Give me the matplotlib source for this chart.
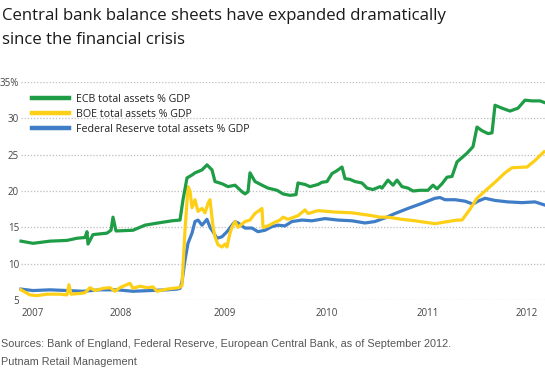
import matplotlib
matplotlib.use("Agg")
import matplotlib.pyplot as plt

# x positions are decimal years
ecb_x = [2007.00, 2007.12, 2007.29, 2007.46, 2007.56, 2007.64, 2007.66, 2007.67, 2007.72,
         2007.86, 2007.90, 2007.92, 2007.95, 2008.12, 2008.24, 2008.37, 2008.51, 2008.59,
         2008.62, 2008.66, 2008.71, 2008.74, 2008.81, 2008.86, 2008.91, 2008.94, 2009.01,
         2009.07, 2009.14, 2009.21, 2009.24, 2009.27, 2009.29, 2009.34, 2009.41, 2009.47,
         2009.56, 2009.62, 2009.69, 2009.75, 2009.77, 2009.84, 2009.89, 2009.97, 2010.01,
         2010.06, 2010.11, 2010.16, 2010.21, 2010.24, 2010.29, 2010.34, 2010.41, 2010.46,
         2010.52, 2010.59, 2010.61, 2010.67, 2010.72, 2010.76, 2010.81, 2010.87, 2010.92,
         2010.99, 2011.07, 2011.12, 2011.16, 2011.21, 2011.26, 2011.31, 2011.36, 2011.41,
         2011.46, 2011.52, 2011.56, 2011.61, 2011.67, 2011.71, 2011.74, 2011.81, 2011.89,
         2011.97, 2012.04, 2012.11, 2012.19, 2012.23]
ecb = [13.1, 12.8, 13.1, 13.2, 13.5, 13.6, 14.4, 12.7, 14.0,
       14.2, 14.6, 16.4, 14.5, 14.6, 15.3, 15.6, 15.9, 16.0,
       18.8, 21.8, 22.2, 22.5, 22.9, 23.6, 22.9, 21.3, 21.0,
       20.6, 20.8, 19.9, 19.6, 19.9, 22.5, 21.3, 20.8, 20.4,
       20.1, 19.6, 19.4, 19.5, 21.1, 20.9, 20.6, 20.9, 21.2,
       21.3, 22.4, 22.8, 23.3, 21.7, 21.6, 21.3, 21.1, 20.4,
       20.2, 20.6, 20.4, 21.5, 20.8, 21.5, 20.6, 20.4, 20.0,
       20.1, 20.1, 20.8, 20.3, 21.0, 21.9, 22.0, 24.0, 24.6,
       25.2, 26.1, 28.8, 28.3, 27.9, 28.0, 31.8, 31.4, 31.0,
       31.4, 32.5, 32.4, 32.4, 32.2]

boe_x = [2007.00, 2007.09, 2007.16, 2007.26, 2007.39, 2007.46, 2007.48, 2007.50, 2007.59,
         2007.64, 2007.69, 2007.74, 2007.82, 2007.89, 2007.94, 2007.99, 2008.09, 2008.12,
         2008.19, 2008.26, 2008.32, 2008.36, 2008.46, 2008.52, 2008.58, 2008.61, 2008.64,
         2008.67, 2008.69, 2008.71, 2008.74, 2008.77, 2008.81, 2008.84, 2008.87, 2008.89,
         2008.92, 2008.94, 2008.97, 2009.01, 2009.04, 2009.06, 2009.09, 2009.11, 2009.14,
         2009.17, 2009.24, 2009.29, 2009.34, 2009.39, 2009.41, 2009.42, 2009.47, 2009.54,
         2009.59, 2009.62, 2009.67, 2009.71, 2009.77, 2009.84, 2009.87, 2009.97, 2010.14,
         2010.31, 2010.41, 2010.51, 2010.59, 2010.67, 2010.81, 2010.94, 2011.14, 2011.27,
         2011.36, 2011.41, 2011.49, 2011.56, 2011.64, 2011.74, 2011.84, 2011.91, 2012.06,
         2012.14, 2012.23]
boe = [6.4, 5.7, 5.6, 5.8, 5.8, 5.7, 7.1, 5.8, 5.9,
       6.0, 6.7, 6.3, 6.6, 6.7, 6.2, 6.7, 7.3, 6.6,
       6.9, 6.7, 6.8, 6.2, 6.5, 6.6, 6.7, 7.0, 14.6,
       20.6, 20.0, 17.7, 18.8, 17.2, 17.6, 17.0, 18.3, 18.8,
       15.1, 13.7, 12.6, 12.3, 12.7, 12.3, 14.2, 15.0, 15.8,
       15.0, 15.8, 16.0, 16.9, 17.4, 17.6, 15.0, 15.2, 15.7,
       16.0, 16.4, 16.1, 16.3, 16.6, 17.4, 16.9, 17.3, 17.1,
       17.0, 16.8, 16.6, 16.4, 16.4, 16.1, 15.9, 15.5, 15.8,
       16.0, 16.0, 17.5, 19.0, 20.0, 21.2, 22.5, 23.2, 23.3,
       24.2, 25.4]

fed_x = [2007.00, 2007.12, 2007.29, 2007.46, 2007.62, 2007.79, 2007.96, 2008.12, 2008.29,
         2008.46, 2008.56, 2008.59, 2008.61, 2008.64, 2008.67, 2008.71, 2008.74, 2008.77,
         2008.81, 2008.86, 2008.89, 2008.92, 2008.96, 2009.01, 2009.06, 2009.11, 2009.14,
         2009.17, 2009.24, 2009.31, 2009.37, 2009.44, 2009.51, 2009.57, 2009.64, 2009.71,
         2009.81, 2009.91, 2010.04, 2010.17, 2010.31, 2010.44, 2010.54, 2010.64, 2010.74,
         2010.87, 2011.01, 2011.14, 2011.19, 2011.24, 2011.34, 2011.44, 2011.52, 2011.57,
         2011.64, 2011.74, 2011.87, 2012.01, 2012.14, 2012.23]
fed = [6.5, 6.3, 6.4, 6.3, 6.2, 6.4, 6.4, 6.2, 6.3,
       6.4, 6.5, 6.6, 7.5, 10.5, 12.8, 14.2, 15.8, 16.0,
       15.3, 16.1, 15.0, 14.4, 13.5, 13.7, 14.4, 15.3, 15.8,
       15.6, 14.9, 14.9, 14.4, 14.6, 15.1, 15.3, 15.2, 15.8,
       16.0, 15.9, 16.2, 16.0, 15.9, 15.6, 15.8, 16.3, 16.9,
       17.6, 18.3, 19.0, 19.1, 18.8, 18.8, 18.6, 18.2, 18.6,
       19.0, 18.7, 18.5, 18.4, 18.5, 18.1]

year_ticks = [2007.12, 2008.00, 2009.04, 2010.06, 2011.07, 2012.06]
year_labels = ["2007", "2008", "2009", "2010", "2011", "2012"]
y_ticks = [5, 10, 15, 20, 25, 30, 35]
y_labels = ["5", "10", "15", "20", "25", "30", "35%"]

GREEN = "#1f9c46"
YELLOW = "#fdd017"
BLUE = "#3f7dc6"
SANS = ["Open Sans", "DejaVu Sans"]

fig = plt.figure(figsize=(5.45, 3.76), dpi=100)
fig.patch.set_facecolor("white")
ax = fig.add_axes([21 / 545, 76 / 376, 524 / 545, 218 / 376])

ax.plot(fed_x, fed, color=BLUE, lw=2.3, solid_joinstyle="round", clip_on=False,
        label="Federal Reserve total assets % GDP", zorder=3)
ax.plot(boe_x, boe, color=YELLOW, lw=2.3, solid_joinstyle="round", clip_on=False,
        label="BOE total assets % GDP", zorder=4)
ax.plot(ecb_x, ecb, color=GREEN, lw=2.3, solid_joinstyle="round", clip_on=False,
        label="ECB total assets % GDP", zorder=5)

ax.set_xlim(2007.0, 2012.24)
ax.set_ylim(5, 35)
ax.set_yticks(y_ticks)
ax.set_yticklabels(y_labels)
ax.set_xticks(year_ticks)
ax.set_xticklabels(year_labels)
ax.tick_params(length=0, labelsize=7, labelcolor="#444444")
ax.tick_params(axis="y", pad=1.5)
ax.tick_params(axis="x", pad=6)
for lab in ax.get_xticklabels() + ax.get_yticklabels():
    lab.set_family(SANS)

ax.grid(axis="y", color="#bdbdbd", ls=(0, (1, 1.5)), lw=0.9)
ax.set_axisbelow(True)
for s in ax.spines.values():
    s.set_visible(False)

handles, labels = ax.get_legend_handles_labels()
leg = ax.legend(handles[::-1], labels[::-1], loc="upper left", bbox_to_anchor=(0.012, 0.965),
                frameon=False, handlelength=3.5, handletextpad=0.65, labelspacing=0.38,
                borderaxespad=0, prop={"family": SANS, "size": 7.7})
for t in leg.get_texts():
    t.set_color("#222222")
for h in leg.get_lines():
    h.set_linewidth(3.2)

fig.text(0.004, 1 - 20 / 376, "Central bank balance sheets have expanded dramatically",
         family=SANS, fontsize=12.1, color="#1a1a1a", va="baseline")
fig.text(0.004, 1 - 44 / 376, "since the financial crisis",
         family=SANS, fontsize=12.1, color="#1a1a1a", va="baseline")

fig.text(0.002, 1 - 344 / 376,
         "Sources: Bank of England, Federal Reserve, European Central Bank, as of September 2012.",
         family=["Liberation Sans", "DejaVu Sans"], fontsize=7.8, color="#555555", va="center")
fig.text(0.002, 1 - 362 / 376, "Putnam Retail Management",
         family=["Liberation Sans", "DejaVu Sans"], fontsize=7.8, color="#555555", va="center")

fig.savefig("out.png", dpi=100, facecolor="white")
